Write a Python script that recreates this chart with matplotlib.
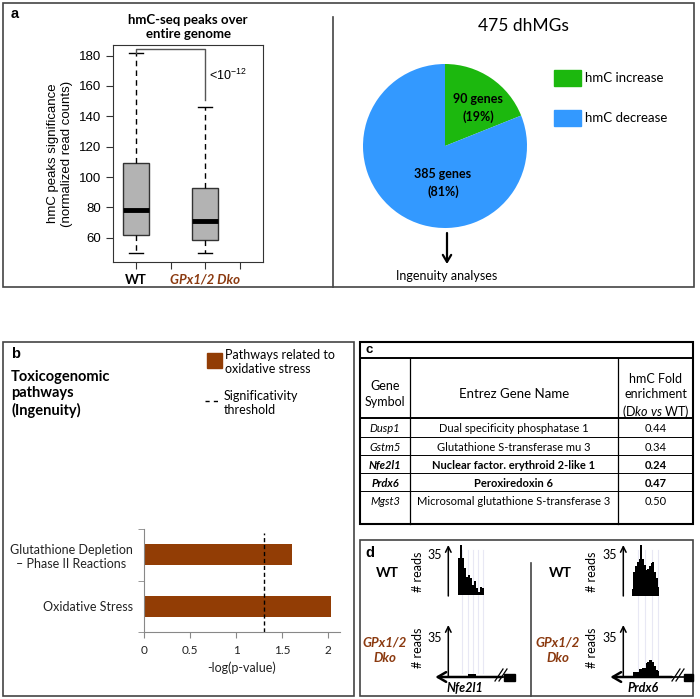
import matplotlib.pyplot as plt
import numpy as np
from matplotlib.patches import Rectangle

plt.rcParams['font.family'] = ['Lato', 'DejaVu Sans']
plt.rcParams['mathtext.fontset'] = 'custom'
plt.rcParams['mathtext.rm'] = 'Lato'
plt.rcParams['mathtext.it'] = 'Lato:italic'
plt.rcParams['mathtext.bf'] = 'Lato:bold'
plt.rcParams['mathtext.default'] = 'regular'

W, H = 700, 699
ARIAL = ['Liberation Sans', 'DejaVu Sans']
BROWN = '#8b3a10'
BAR_BROWN = '#923d05'
GREEN = '#1cb80e'
BLUE = '#3399ff'
FRAME = '#444444'

# a: boxplot
box_labels = ['WT', 'GPx1/2 Dko']
box_q1 = [61.5, 58.2]
box_med = [78.5, 70.7]
box_q3 = [109.5, 93.0]
box_lo = [50.0, 50.0]
box_hi = [182.0, 146.0]
pval_text = '<10$^{-12}$'

# a: pie
pie_labels = ['hmC increase', 'hmC decrease']
pie_counts = [90, 385]
pie_title = '475 dhMGs'

# b: pathways
path_names = ['Glutathione Depletion\n– Phase II Reactions', 'Oxidative Stress']
path_scores = [1.61, 2.03]
threshold = 1.3

# c: table
gene_symbols = ['Dusp1', 'Gstm5', 'Nfe2l1', 'Prdx6', 'Mgst3']
gene_names = ['Dual specificity phosphatase 1', 'Glutathione S-transferase mu 3',
              'Nuclear factor. erythroid 2-like 1', 'Peroxiredoxin 6',
              'Microsomal glutathione S-transferase 3']
fold_enrich = [0.44, 0.34, 0.24, 0.47, 0.50]
gene_bold = [False, False, True, True, False]

# d: read tracks
wt_nfe2l1 = [33, 44, 33, 24, 16, 18, 15, 9, 12, 6, 3, 7, 6]
dko_nfe2l1 = [0, 0, 0, 0, 0, 2, 2, 2, 2, 0, 0, 0, 0]
wt_prdx6 = [6, 22, 27, 31, 34, 46, 34, 28, 24, 25, 27, 30, 31, 22, 16, 8]
dko_prdx6 = [0, 4, 4, 4, 7, 7, 8, 8, 12, 13, 15, 15, 13, 9, 6, 5]

fig = plt.figure(figsize=(7, 6.99), dpi=100)


def px_axes(x0, y0, x1, y1):
    return fig.add_axes([x0 / W, 1 - y1 / H, (x1 - x0) / W, (y1 - y0) / H])


# overlay in pixel coordinates for frames / free text
ov = px_axes(0, 0, W, H)
ov.set_xlim(0, W)
ov.set_ylim(H, 0)
ov.axis('off')

ov.add_patch(Rectangle((3, 3), 691, 284, fill=False, ec=FRAME, lw=1.2))
ov.plot([333, 333], [17, 287], color=FRAME, lw=1.2)
ov.add_patch(Rectangle((3, 342), 351, 354, fill=False, ec=FRAME, lw=1.2))
ov.add_patch(Rectangle((360, 540), 333, 156, fill=False, ec=FRAME, lw=1.2))
ov.plot([531, 531], [563, 696], color=FRAME, lw=1.2)

# ---------- panel a : boxplot ----------
ov.text(11, 14, 'a', family=ARIAL, weight='bold', fontsize=10.5, va='center')
ov.text(188, 27, 'hmC-seq peaks over\nentire genome', ha='center', va='center',
        weight='bold', fontsize=9.5, linespacing=1.2)

axb = px_axes(113, 45, 263, 262)
stats = [dict(med=box_med[i], q1=box_q1[i], q3=box_q3[i], whislo=box_lo[i],
              whishi=box_hi[i], fliers=[]) for i in range(len(box_labels))]
axb.bxp(stats, positions=[1, 2], widths=0.39, patch_artist=True, showfliers=False,
        boxprops=dict(facecolor='#b3b3b3', edgecolor='#333333', lw=1),
        whiskerprops=dict(ls=(0, (4, 3)), color='black', lw=1),
        capprops=dict(color='black', lw=1),
        medianprops=dict(color='black', lw=3.5),
        capwidths=0.2, manage_ticks=False)
axb.set_xlim(0.667, 2.84)
axb.set_ylim(44, 187)
axb.set_yticks(np.arange(60, 181, 20))
axb.set_xticks([1, 1.5, 2, 2.5])
axb.set_xticklabels(['WT', '', box_labels[1], ''])
for lab in axb.get_yticklabels():
    lab.set_family(ARIAL)
    lab.set_fontsize(9.5)
xl = axb.get_xticklabels()
xl[0].set_weight('bold')
xl[2].set_weight('bold')
xl[2].set_style('italic')
xl[2].set_color(BROWN)
for lab in xl:
    lab.set_fontsize(9.5)
axb.tick_params(length=5, width=0.8, color='#333')
for s in axb.spines.values():
    s.set_color('#333')
axb.set_ylabel('hmC peaks significance\n(normalized read counts)', family=ARIAL,
               fontsize=9.5, linespacing=1.25, labelpad=4)
# significance bracket
axb.plot([1, 1, 2, 2], [box_hi[0], 184.4, 184.4, 151], color='#555', lw=1)
axb.text(2.06, 167, pval_text, family=ARIAL, fontsize=9, va='center')

# ---------- panel a : pie ----------
ov.text(523, 26, pie_title, ha='center', va='center', fontsize=12.5)
axp = px_axes(363, 64, 527, 228)
axp.pie(pie_counts, colors=[GREEN, BLUE], startangle=90, counterclock=False,
        radius=1)
axp.set_xlim(-1, 1)
axp.set_ylim(-1, 1)
axp.set_aspect('equal')
total = sum(pie_counts)
for n, (lx, ly) in zip(pie_counts, [(478, 108), (443, 183)]):
    axp.text(lx, ly, f'{n} genes\n({round(100 * n / total)}%)', transform=ov.transData,
             ha='center', va='center', weight='bold', fontsize=9, linespacing=1.5)
for i, (lab, col) in enumerate(zip(pie_labels, [GREEN, BLUE])):
    y = 78 + 40 * i
    ov.add_patch(Rectangle((554, y - 8), 27, 16, color=col))
    ov.text(585, y, lab, va='center', fontsize=9.5)
ov.annotate('', xy=(447, 264), xytext=(447, 233),
            arrowprops=dict(arrowstyle='->,head_length=0.5,head_width=0.3',
                            lw=1.6, color='black', shrinkA=0, shrinkB=0))
ov.text(447, 276, 'Ingenuity analyses', ha='center', va='center', fontsize=9)

# ---------- panel b ----------
ov.text(11, 354, 'b', family=ARIAL, weight='bold', fontsize=10.5, va='center')
ov.text(11, 394, 'Toxicogenomic\npathways\n(Ingenuity)', va='center', weight='bold',
        fontsize=10.5, linespacing=1.2)
ov.add_patch(Rectangle((207, 353), 15, 15, color=BAR_BROWN))
ov.text(225, 362, 'Pathways related to\noxidative stress', va='center', fontsize=9,
        linespacing=1.25)
ov.plot([205, 218], [401, 401], color='black', lw=1, ls=(0, (3, 3)))
ov.text(224, 403, 'Significativity\nthreshold', va='center', fontsize=9,
        linespacing=1.25)

axh = px_axes(144, 529, 340, 632)
ypos = np.arange(len(path_names))[::-1]
axh.barh(ypos, path_scores, height=0.4, color=BAR_BROWN)
axh.plot([threshold, threshold], [-0.5, 1.42], ls=(0, (3, 2)), color='black', lw=1)
axh.set_xlim(0, 2.13)
axh.set_ylim(-0.5, 1.5)
axh.set_yticks(ypos)
axh.set_yticklabels(path_names, fontsize=9, color='#222')
for lab in axh.get_yticklabels():
    lab.set_multialignment('center')
axh.set_yticks([-0.5, 0.5, 1.5], minor=True)
axh.tick_params(axis='y', which='major', length=0, pad=8)
axh.tick_params(axis='y', which='minor', length=4, color='#888')
axh.set_xticks([0, 0.5, 1, 1.5, 2])
axh.set_xticklabels(['0', '0.5', '1', '1.5', '2'])
axh.tick_params(axis='x', length=4, color='#888', labelsize=8.5, labelcolor='#222', pad=5)
axh.spines[['top', 'right']].set_visible(False)
axh.spines[['left', 'bottom']].set_color('#888')
axh.set_xlabel('-log(p-value)', fontsize=9, color='#222', labelpad=4)

# ---------- panel c : table ----------
row_bounds = [342, 358, 418, 437, 455, 473, 491, 524]
col_bounds = [360, 410, 618, 693]
ov.add_patch(Rectangle((360, 342), 333, 182, fill=False, ec='black', lw=1.5))
for i, y in enumerate(row_bounds[1:-1]):
    ov.plot([360, 693], [y, y], color='black', lw=1.4 if i < 2 else 0.7)
for x in col_bounds[1:-1]:
    ov.plot([x, x], [358, 524], color='black', lw=0.9)
ov.text(366, 350, 'c', family=ARIAL, weight='bold', fontsize=9.5, va='center')
cx = [(col_bounds[i] + col_bounds[i + 1]) / 2 for i in range(3)]
ov.text(cx[0], 394, 'Gene\nSymbol', ha='center', va='center', fontsize=9,
        linespacing=1.3)
ov.text(cx[1], 394, 'Entrez Gene Name', ha='center', va='center', fontsize=9.5)
ov.text(cx[2], 396.5, 'hmC Fold\nenrichment\n(D$\\it{ko}$ $\\it{vs}$ WT)', ha='center',
        va='center', fontsize=9, linespacing=1.25)
for i in range(len(gene_symbols)):
    y = row_bounds[i + 2] + 10.5
    w = 'bold' if gene_bold[i] else 'normal'
    ov.text(cx[0], y, gene_symbols[i], ha='center', va='center', fontsize=8,
            style='italic', weight=w)
    ov.text(cx[1], y, gene_names[i], ha='center', va='center', fontsize=8, weight=w)
    ov.text(cx[2], y, f'{fold_enrich[i]:.2f}', ha='center', va='center', fontsize=8,
            weight=w)

# ---------- panel d : read tracks ----------
ov.text(365, 553, 'd', family=ARIAL, weight='bold', fontsize=10.5, va='center')
for xc, xr, xarrow, x35, faint, gene, gx, xend, slash_x, rect_x in [
        (387, 418, 448.3, 435, [461.5, 468, 473, 478, 483], 'Nfe2l1', 465, 502, 495, 504),
        (560, 592, 623.3, 610, [638, 645, 652, 658], 'Prdx6', 643, 672, 672, 684)]:
    for fx in faint:
        ov.plot([fx, fx], [550, 673], color='#e8e8f4', lw=0.8)
    ov.text(xc, 573, 'WT', ha='center', va='center', weight='bold', fontsize=10)
    ov.text(xc - 2, 650, 'GPx1/2\nDko', ha='center', va='center', weight='bold',
            style='italic', color=BROWN, fontsize=9.5, linespacing=1.3)
    ov.text(xr, 572, '# reads', rotation=90, ha='center', va='center', fontsize=9)
    ov.text(xr, 648, '# reads', rotation=90, ha='center', va='center', fontsize=9)
    ov.text(x35, 555, '35', ha='center', va='center', fontsize=9)
    ov.text(x35, 638, '35', ha='center', va='center', fontsize=9)
    head = dict(arrowstyle='->,head_length=0.4,head_width=0.2', lw=1.1,
                color='black', shrinkA=0, shrinkB=0)
    ov.annotate('', xy=(xarrow, 545), xytext=(xarrow, 596), arrowprops=head)
    ov.annotate('', xy=(xarrow, 625), xytext=(xarrow, 677), arrowprops=head)
    ov.annotate('', xy=(xarrow - 13, 677), xytext=(xend, 677),
                arrowprops=dict(arrowstyle='->,head_length=0.6,head_width=0.35',
                                lw=1.8, color='black', shrinkA=0, shrinkB=0))
    ov.plot([xend, rect_x + 2], [677, 677], color='black', lw=1.2)
    for dx in (0, 4):
        ov.plot([slash_x + dx, slash_x + dx + 8], [681, 669], color='black', lw=0.9)
    ov.add_patch(Rectangle((rect_x, 674), min(11, 693 - rect_x), 7, color='black'))
    ov.text(gx, 688, gene, ha='center', va='center', weight='bold', style='italic',
            fontsize=9)


def track(vals, x0, x1, base, px_per_read, top):
    ax = px_axes(x0, top, x1, base)
    ax.bar(np.arange(len(vals)), vals, width=1.0, align='edge', color='black', lw=0)
    ax.set_xlim(0, len(vals))
    ax.set_ylim(0, (base - top) / px_per_read)
    ax.axis('off')
    ax.patch.set_alpha(0)


track(wt_nfe2l1, 458, 484, 595, 1.126, 540)
track(dko_nfe2l1, 458, 484, 676.3, 1.09, 630)
track(wt_prdx6, 631.7, 659.3, 596, 1.1, 540)
track(dko_prdx6, 631.7, 659.3, 676.3, 1.09, 630)

fig.savefig('out.png', dpi=100)
